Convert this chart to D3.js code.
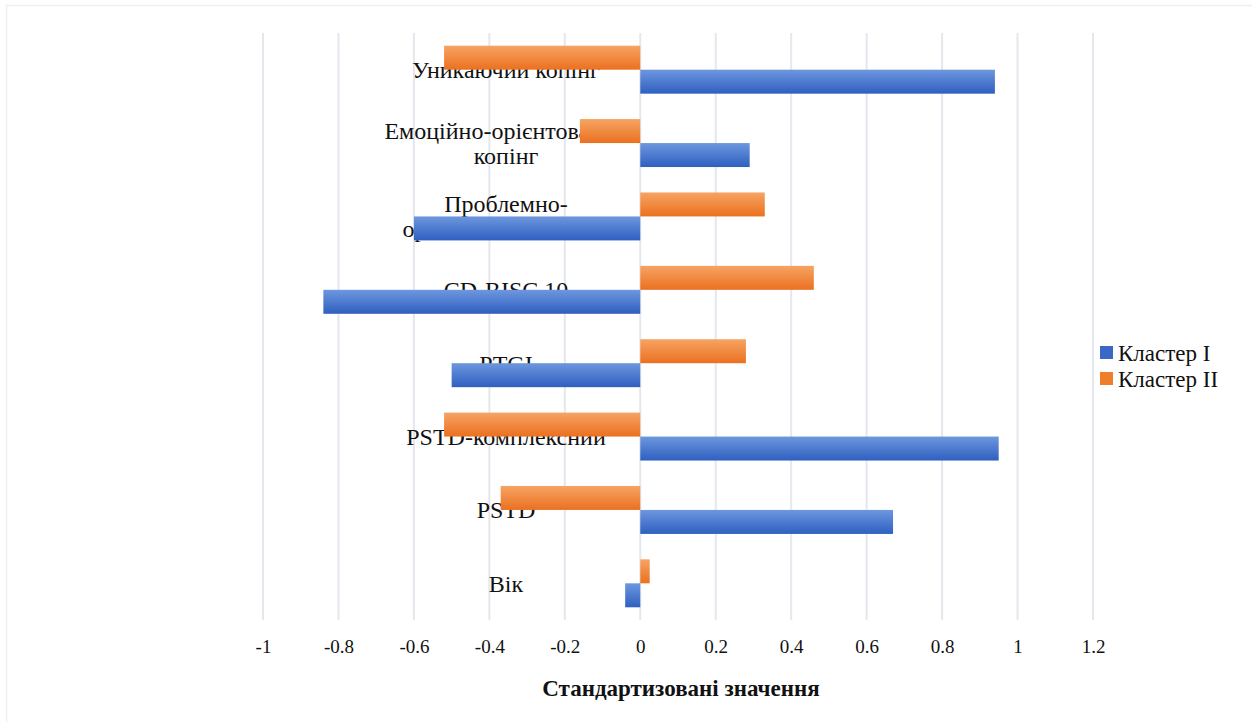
<!DOCTYPE html>
<html>
<head>
<meta charset="utf-8">
<script src="https://cdn.jsdelivr.net/npm/d3@7"></script>
<style>
  html, body { margin: 0; padding: 0; background: #fff; }
  svg { display: block; }
  text { font-family: "Liberation Serif", "Times New Roman", serif; fill: #111; }
</style>
</head>
<body>
<svg id="chart" width="1252" height="722"></svg>
<script>
// Categories, top to bottom
const categories = [
  "Уникаючий копінг",
  "Емоційно-орієнтований копінг",
  "Проблемно-орієнтований копінг",
  "CD-RISC 10",
  "PTGI",
  "PSTD-комплексний",
  "PSTD",
  "Вік"
];
// Wrapped label lines for each category
const categoryLines = [
  ["Уникаючий копінг"],
  ["Емоційно-орієнтований", "копінг"],
  ["Проблемно-", "орієнтований копінг"],
  ["CD-RISC 10"],
  ["PTGI"],
  ["PSTD-комплексний"],
  ["PSTD"],
  ["Вік"]
];
const seriesNames = ["Кластер I", "Кластер II"];
const cluster1 = [0.94, 0.29, -0.60, -0.84, -0.50, 0.95, 0.67, -0.04];
const cluster2 = [-0.52, -0.16, 0.33, 0.46, 0.28, -0.52, -0.37, 0.025];
const tickValues = [-1, -0.8, -0.6, -0.4, -0.2, 0, 0.2, 0.4, 0.6, 0.8, 1, 1.2];
const axisTitle = "Стандартизовані значення";

const svg = d3.select("#chart");
const defs = svg.append("defs");

function gradient(id, top, bottom) {
  const g = defs.append("linearGradient").attr("id", id)
    .attr("x1", 0).attr("y1", 0).attr("x2", 0).attr("y2", 1);
  g.append("stop").attr("offset", "0%").attr("stop-color", top);
  g.append("stop").attr("offset", "100%").attr("stop-color", bottom);
}
gradient("gBlue", "#6d97de", "#2f5fc0");
gradient("gOrange", "#f6a463", "#eb7020");
const fills = { "Кластер I": "url(#gBlue)", "Кластер II": "url(#gOrange)" };
const legendFills = { "Кластер I": "#3a68c6", "Кластер II": "#ef7d2a" };

// faint outer frame
svg.append("rect").attr("x", 6.5).attr("y", 5.5).attr("width", 1260).attr("height", 730)
  .attr("fill", "none").attr("stroke", "#eeeff3").attr("stroke-width", 1.5);

const plotTop = 33, plotBottom = 620;
const x = d3.scaleLinear().domain([-1, 1.2]).range([263, 1093]);
const y = d3.scaleBand().domain(categories).range([plotTop, plotBottom]).padding(0);
// orange series sits above blue inside each band
const ySub = d3.scaleBand().domain(["Кластер II", "Кластер I"])
  .range([0, y.bandwidth()]).paddingInner(0).paddingOuter(0.53);

// gridlines
svg.append("g").selectAll("line").data(tickValues).join("line")
  .attr("x1", d => x(d)).attr("x2", d => x(d))
  .attr("y1", plotTop).attr("y2", plotBottom)
  .attr("stroke", "#e5e7ee").attr("stroke-width", 2);

// category labels (drawn beneath the bars)
const labelX = 506;
const lineH = 25;
const lab = svg.append("g").attr("font-size", 24);
categories.forEach((c, i) => {
  const lines = categoryLines[i];
  const cy = y(c) + y.bandwidth() / 2;
  const t = lab.append("text").attr("text-anchor", "middle");
  lines.forEach((ln, j) => {
    t.append("tspan").attr("x", labelX)
      .attr("y", cy + (j - (lines.length - 1) / 2) * lineH)
      .attr("dy", "0.35em").text(ln);
  });
});

// bars
const rows = [];
categories.forEach((c, i) => {
  rows.push({ cat: c, series: "Кластер I", value: cluster1[i] });
  rows.push({ cat: c, series: "Кластер II", value: cluster2[i] });
});
svg.append("g").selectAll("rect").data(rows).join("rect")
  .attr("x", d => x(Math.min(0, d.value)))
  .attr("width", d => Math.abs(x(d.value) - x(0)))
  .attr("y", d => y(d.cat) + ySub(d.series))
  .attr("height", ySub.bandwidth())
  .attr("fill", d => fills[d.series]);

// x axis tick labels
const xAxis = d3.axisBottom(x).tickValues(tickValues).tickSize(0).tickPadding(0)
  .tickFormat(d => String(+d.toFixed(1)));
const ax = svg.append("g").attr("transform", `translate(0, ${plotBottom + 19})`).call(xAxis);
ax.select(".domain").remove();
ax.selectAll("text").attr("font-size", 19).attr("fill", "#111")
  .attr("font-family", "Liberation Serif, serif");

// axis title
svg.append("text").attr("x", 681).attr("y", 696).attr("text-anchor", "middle")
  .attr("font-size", 23).attr("font-weight", "bold").text(axisTitle);

// legend
const leg = svg.append("g").attr("transform", "translate(1100, 346)");
seriesNames.forEach((s, i) => {
  const g = leg.append("g").attr("transform", `translate(0, ${i * 26})`);
  g.append("rect").attr("width", 13).attr("height", 13).attr("fill", legendFills[s]);
  g.append("text").attr("x", 18).attr("y", 7).attr("dy", "0.35em")
    .attr("font-size", 23).text(s);
});
</script>
</body>
</html>
